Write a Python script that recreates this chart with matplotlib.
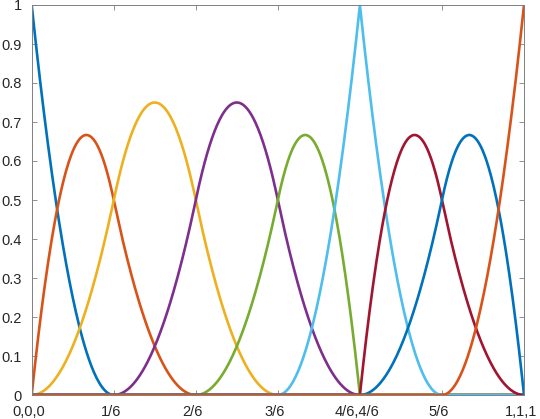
import numpy as np
import matplotlib.pyplot as plt
from matplotlib.transforms import ScaledTranslation

# knot vector and spline degree
knots = [0, 0, 0, 1/6, 2/6, 3/6, 4/6, 4/6, 5/6, 1, 1, 1]
degree = 2

tick_pos = [0, 1/6, 2/6, 3/6, 4/6, 5/6, 1]
tick_labels = ['0,0,0', '1/6', '2/6', '3/6', '4/6,4/6', '5/6', '1,1,1']
ytick_pos = [0, 0.1, 0.2, 0.3, 0.4, 0.5, 0.6, 0.7, 0.8, 0.9, 1]
ytick_labels = ['0', '0.1', '0.2', '0.3', '0.4', '0.5', '0.6', '0.7', '0.8', '0.9', '1']

colors = ['#0072BD', '#D95319', '#EDB120', '#7E2F8E', '#77AC30',
          '#4DBEEE', '#A2142F']


def basis(i, p, t, x):
    # Cox-de Boor recursion
    if p == 0:
        if t[i + 1] == 1 and t[i] < 1:
            return ((x >= t[i]) & (x <= t[i + 1])).astype(float)
        return ((x >= t[i]) & (x < t[i + 1])).astype(float)
    out = np.zeros_like(x)
    if t[i + p] > t[i]:
        out += (x - t[i]) / (t[i + p] - t[i]) * basis(i, p - 1, t, x)
    if t[i + p + 1] > t[i + 1]:
        out += (t[i + p + 1] - x) / (t[i + p + 1] - t[i + 1]) * basis(i + 1, p - 1, t, x)
    return out


plt.rcParams['font.family'] = ['Liberation Sans', 'DejaVu Sans']
fig = plt.figure(figsize=(5.4, 4.19), dpi=100)
ax = fig.add_axes([31.7 / 540, 24 / 419, 492.3 / 540, 390 / 419])

x = np.linspace(0, 1, 601)
n = len(knots) - degree - 1
for i in range(n):
    ax.plot(x, basis(i, degree, knots, x), color=colors[i % len(colors)], lw=1.9)

ax.set_xlim(0, 1)
ax.set_ylim(0, 1)
ax.set_xticks(tick_pos)
ax.set_xticklabels(tick_labels)
ax.set_yticks(ytick_pos)
ax.set_yticklabels(ytick_labels)
ax.tick_params(direction='in', top=True, right=True, color='#808080',
               labelsize=10.5, labelcolor='#262626', length=3.5, width=0.6)
ax.tick_params(axis='x', pad=7.5)
ax.tick_params(axis='y', pad=7)
for s in ax.spines.values():
    s.set_color('#808080')
    s.set_linewidth(0.7)

# x labels sit a little left of their ticks in the reference
shift = ScaledTranslation(-3 / 100, 0, fig.dpi_scale_trans)
for lab in ax.get_xticklabels():
    lab.set_transform(lab.get_transform() + shift)

fig.savefig('out.png', dpi=100)
